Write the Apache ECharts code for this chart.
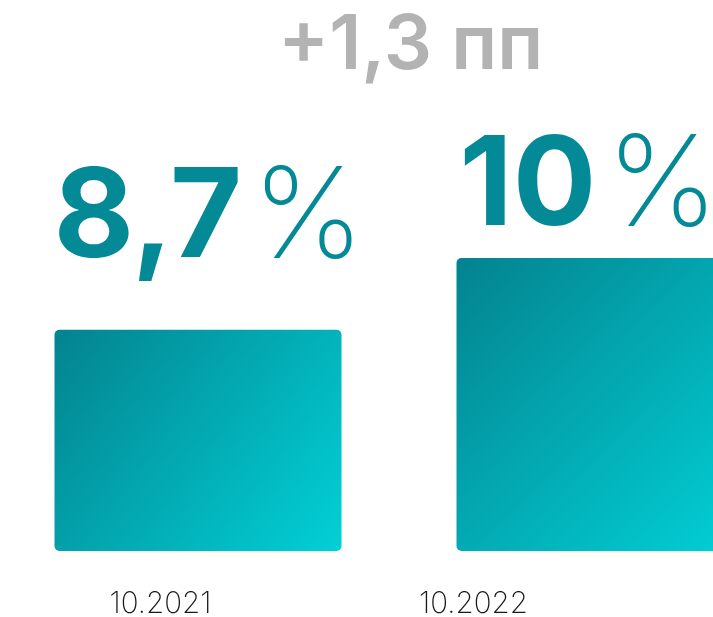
<!DOCTYPE html>
<html>
<head>
<meta charset="utf-8">
<script src="https://cdn.jsdelivr.net/npm/echarts@6/dist/echarts.min.js"></script>
<style>
  html, body { margin: 0; padding: 0; background: #fff; }
  #chart { width: 713px; height: 617px; }
</style>
</head>
<body>
<div id="chart"></div>
<script>
const categories = ["10.2021", "10.2022"];
const values = [8.7, 10];
const valueLabels = ["8,7", "10"];
const changeText = "+1,3 пп";

const FONT = "Inter";
const TEAL = "#048a96";

const chart = echarts.init(document.getElementById("chart"));

const barGradient = new echarts.graphic.LinearGradient(0, 0, 1, 1, [
  { offset: 0, color: "#03838f" },
  { offset: 1, color: "#02d0d6" },
]);

// label placement above each bar differs in the source picture
const labelDistance = [48, 8];
const labelShift = [11, -11];

chart.setOption({
  animation: false,
  title: {
    text: changeText,
    left: 273,
    top: 3,
    textStyle: {
      fontFamily: FONT,
      fontSize: 76,
      fontWeight: 600,
      color: "#b3b3b3",
    },
  },
  grid: [
    { left: -3, width: 804, top: 258, bottom: 66, outerBoundsMode: "none" },
    { left: 4, width: 626, top: 258, bottom: 66, outerBoundsMode: "none" },
  ],
  xAxis: [
    {
      gridIndex: 0,
      type: "category",
      data: categories,
      axisLine: { show: false },
      axisTick: { show: false },
      axisLabel: { show: false },
    },
    {
      gridIndex: 1,
      type: "category",
      data: categories,
      axisLine: { show: false },
      axisTick: { show: false },
      axisLabel: {
        margin: 38,
        fontFamily: FONT,
        fontSize: 29.5,
        fontWeight: 200,
        lineHeight: 30,
        color: "#1a1a1a",
      },
    },
  ],
  yAxis: [
    { gridIndex: 0, type: "value", min: 4.7, max: 10, show: false },
    { gridIndex: 1, type: "value", min: 0, max: 1, show: false },
  ],
  series: [
    {
      type: "bar",
      xAxisIndex: 0,
      yAxisIndex: 0,
      barWidth: 287,
      data: values.map((v, i) => ({
        value: v,
        label: { distance: labelDistance[i], offset: [labelShift[i], 0] },
      })),
      itemStyle: { color: barGradient, borderRadius: 5 },
      label: {
        show: true,
        position: "top",
        formatter: (p) => `{b|${valueLabels[p.dataIndex]}}{p|%}`,
        rich: {
          b: {
            fontFamily: FONT,
            fontSize: 124,
            fontWeight: 700,
            color: TEAL,
            lineHeight: 124,
          },
          p: {
            fontFamily: FONT,
            fontSize: 126,
            fontWeight: 200,
            color: TEAL,
            lineHeight: 124,
            padding: [0, 0, 0, 10],
          },
        },
      },
    },
  ],
});
</script>
</body>
</html>
